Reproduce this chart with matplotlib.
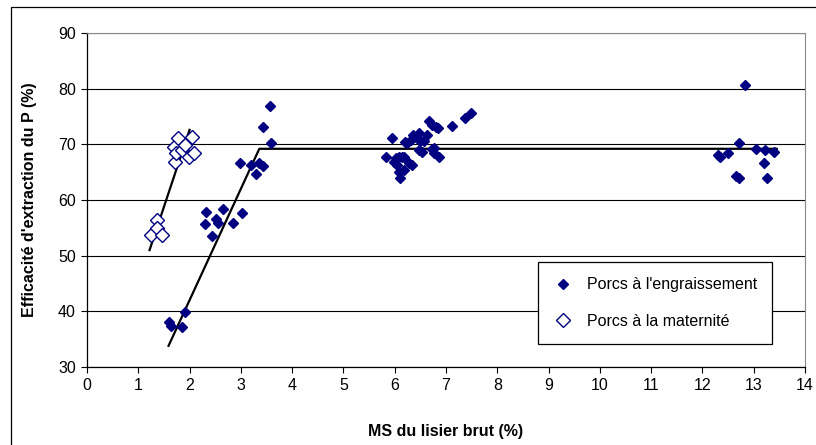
import matplotlib.pyplot as plt
from matplotlib.patches import Rectangle

plt.rcParams['font.family'] = ['Liberation Sans', 'DejaVu Sans']

# Porcs à l'engraissement (MS %, efficacité %)
engr_x = [1.60, 1.63, 1.85, 1.91,
          2.30, 2.32, 2.43, 2.52, 2.56, 2.65, 2.85, 3.02,
          2.99, 3.20, 3.29, 3.35, 3.43, 3.43, 3.57, 3.59,
          5.84, 5.95, 5.98, 6.02, 6.05, 6.08, 6.08, 6.11, 6.15, 6.18, 6.18,
          6.21, 6.24, 6.28, 6.31, 6.34, 6.36, 6.44, 6.47, 6.47, 6.50, 6.54,
          6.57, 6.63, 6.67, 6.73, 6.73, 6.76, 6.77, 6.80, 6.85, 6.86,
          7.11, 7.38, 7.48,
          12.31, 12.35, 12.49, 12.66, 12.71, 12.72, 12.83, 13.05, 13.20,
          13.22, 13.25, 13.39]
engr_y = [38.0, 37.3, 37.1, 39.8,
          55.6, 57.8, 53.6, 56.6, 55.8, 58.4, 55.8, 57.6,
          66.7, 66.3, 64.6, 66.7, 66.1, 73.2, 76.8, 70.3,
          67.7, 71.2, 66.9, 67.5, 66.3, 67.8, 65.1, 63.9, 67.8, 67.8, 65.4,
          70.5, 70.2, 66.6, 70.8, 66.3, 71.6, 71.2, 68.9, 72.0, 70.6, 68.6,
          70.6, 71.7, 74.2, 69.2, 73.5, 69.3, 68.4, 73.2, 72.9, 67.8,
          73.3, 74.7, 75.6,
          68.1, 67.7, 68.5, 64.3, 70.3, 63.9, 80.6, 69.1, 66.6,
          68.9, 64.0, 68.7]

# Porcs à la maternité
mat_x = [1.24, 1.36, 1.36, 1.46,
         1.69, 1.72, 1.74, 1.78, 1.85, 1.91, 1.98, 2.04, 2.08]
mat_y = [53.7, 56.4, 54.9, 53.7,
         69.6, 66.9, 68.4, 71.1, 68.9, 69.9, 67.8, 71.4, 68.4]

# droites d'ajustement
fit_mat_x = [1.22, 2.00]
fit_mat_y = [51.0, 72.6]
fit_engr_x = [1.59, 3.36, 13.45]
fit_engr_y = [33.8, 69.2, 69.2]

fig = plt.figure(figsize=(8.16, 4.45), dpi=100)
ax = fig.add_axes([0.1066, 0.1753, 0.8799, 0.7505])

ax.plot(fit_mat_x, fit_mat_y, color='black', lw=1.6, zorder=3)
ax.plot(fit_engr_x, fit_engr_y, color='black', lw=1.6, zorder=3)
ax.plot(engr_x, engr_y, 'D', color='#000080', ms=5, mec='#000080',
        ls='none', label="Porcs à l'engraissement", zorder=4)
ax.plot(mat_x, mat_y, 'D', mfc='white', mec='#000080', mew=1.0, ms=7,
        ls='none', label='Porcs à la maternité', zorder=4)

ax.set_xlim(0, 14)
ax.set_ylim(30, 90)
ax.set_xticks(range(0, 15))
ax.set_yticks(range(30, 91, 10))
ax.yaxis.grid(True, color='black', lw=0.8)
ax.set_axisbelow(True)
for s in ['top', 'right']:
    ax.spines[s].set_color('#888888')
ax.spines['left'].set_linewidth(0.9)
ax.spines['bottom'].set_linewidth(0.9)
ax.tick_params(labelsize=11.5, length=4, width=0.8, direction='out', pad=4)

ax.set_xlabel('MS du lisier brut (%)', fontsize=11.5, fontweight='bold', labelpad=22)
ax.set_ylabel("Efficacité d'extraction du P (%)", fontsize=11.5, fontweight='bold', labelpad=15)

leg = ax.legend(loc='upper left', bbox_to_anchor=(0.628, 0.314), borderaxespad=0,
                fontsize=11.5, frameon=True, fancybox=False, edgecolor='black',
                borderpad=0.95, labelspacing=1.35, handletextpad=0.8, handlelength=1.3,
                framealpha=1)
leg.get_frame().set_linewidth(0.9)
leg.set_zorder(10)

fig.patches.append(Rectangle((11 / 816, -0.05), 1.0, (445 - 7) / 445 + 0.05,
                             transform=fig.transFigure, fill=False,
                             edgecolor='black', lw=0.9))

fig.savefig('out.png', dpi=100)
